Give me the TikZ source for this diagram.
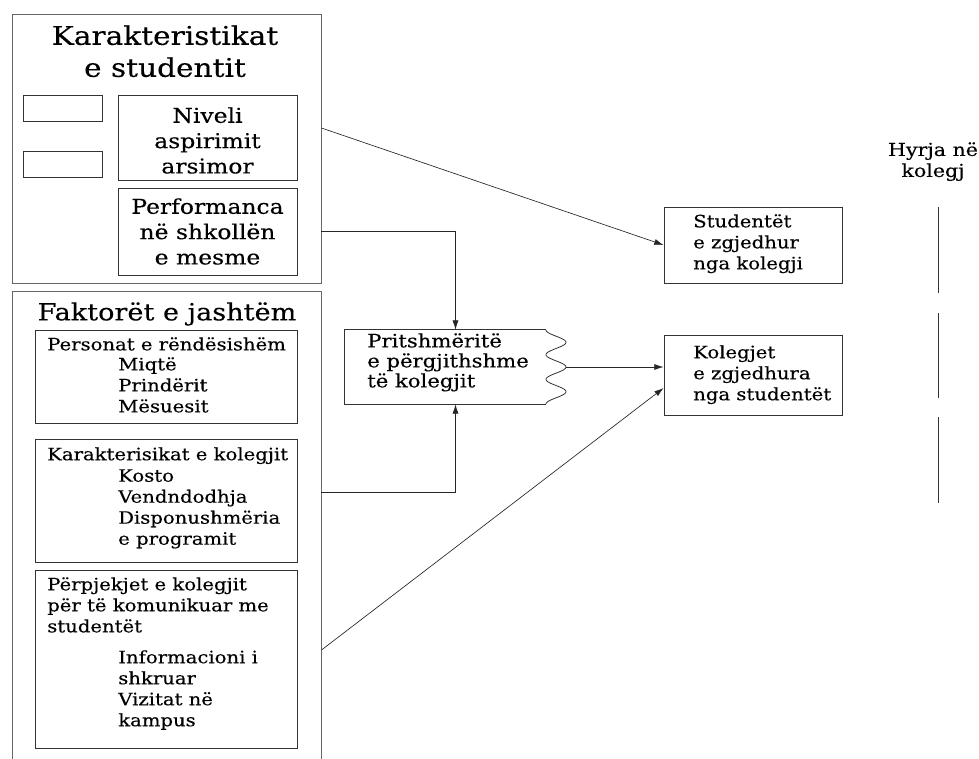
\documentclass[tikz,border=0pt]{standalone}
\usepackage{fontspec}
\setmainfont{DejaVu Serif}[FakeStretch=1.15, FakeBold=0.3]
\usetikzlibrary{arrows.meta,positioning,calc,fit}

\begin{document}
\begin{tikzpicture}[x=0.75pt, y=-0.75pt,
    line/.style={draw=black!80, line width=0.6pt},
    box/.style={line, inner sep=0pt},
    outer/.style={draw=black!60, line width=0.7pt, inner sep=0pt},
    txt/.style={inner sep=0pt, anchor=north west, align=left, font=\fontsize{12.8}{15.75}\selectfont},
    ctxt/.style={inner sep=0pt, align=center, font=\fontsize{15.3}{19}\selectfont},
    title/.style={inner sep=0pt, anchor=north, align=center, font=\fontsize{19.3}{24}\selectfont},
    arr/.style={draw=black!85, line width=0.5pt, -{Latex[length=7pt,width=4.5pt]}}]
    \useasboundingbox (0,0) rectangle (979,758);

    % Student characteristics
    \node[outer, fit={(12,14) (321,283)}] (char) {};
    \node[title] (chartitle) at (165,25) {Karakteristikat\\e studentit};
    \node[box, fit={(23,95) (102,121)}] (emptya) {};
    \node[box, fit={(23,151) (102,177)}] (emptyb) {};
    \node[box, fit={(118,95) (297,180)}] (niveli) {};
    \node[ctxt] (nivelitxt) at ($(niveli)+(0,3)$) {Niveli\\aspirimit\\arsimor};
    \node[box, fit={(118,188) (297,275)}] (perf) {};
    \node[ctxt] (perftxt) at (perf) {Performanca\\në shkollën\\e mesme};

    % External factors
    \node[outer, fit={(12,291) (321,775)}] (fakt) {};
    \node[title, font=\fontsize{17.7}{22}\selectfont] (fakttitle) at (167,302) {Faktorët e jashtëm};
    \node[box, fit={(35,330) (297,423)}] (personat) {};
    \node[txt] (personattxt) at (47,337) {Personat e rëndësishëm};
    \node[txt] (personatlist) at (118,357) {Miqtë\\Prindërit\\Mësuesit};
    \node[box, fit={(35,439) (297,562)}] (karak) {};
    \node[txt] (karaktxt) at (47,447) {Karakterisikat e kolegjit};
    \node[txt] (karaklist) at (118,469) {Kosto\\Vendndodhja\\Disponushmëria\\e programit};
    \node[box, fit={(35,570) (297,748)}] (perp) {};
    \node[txt] (perptxt) at (47,577) {Përpjekjet e kolegjit\\për të komunikuar me\\studentët};
    \node[txt] (perplist) at (118,650) {Informacioni i\\shkruar\\Vizitat në\\kampus};

    % Expectations
    \node[inner sep=0pt, fit={(345,330) (546,404)}] (pritsh) {};
    \draw[line] (pritsh.north east) -- (pritsh.north west) -- (pritsh.south west) -- (pritsh.south east);
    \draw[line] plot[domain=0:3, samples=90, variable=\t] ({556-10*cos(360*\t)}, {330+74*\t/3});
    \node[txt, font=\fontsize{13.8}{15}\selectfont] (pritshtxt) at (367,333) {Pritshmëritë\\e përgjithshme\\të kolegjit};

    % Outcomes
    \node[box, fit={(664,207) (842,283)}] (studentet) {};
    \node[txt] (studentettxt) at (693,214) {Studentët\\e zgjedhur\\nga kolegji};
    \node[box, fit={(664,335) (842,415)}] (kolegjet) {};
    \node[txt] (kolegjettxt) at (693,345) {Kolegjet\\e zgjedhura\\nga studentët};

    % College entry
    \node[txt, anchor=north, align=center, font=\fontsize{13.4}{15.75}\selectfont] (hyrja) at (933,142) {Hyrja në\\kolegj};
    \foreach \a/\b in {207/293, 313/398, 417/503} {
        \draw[line] (938,\a) -- (938,\b);
    }

    % Connectors
    \draw[arr] ($(char.east)+(0,-20.5)$) -- (studentet.west);
    \draw[arr] (char.east |- perf.east) -| ($(pritsh.north)+(10,0)$);
    \draw[arr] ($(fakt.east |- karak.east)+(0,-8)$) -| ($(pritsh.south)+(10,0)$);
    \draw[arr] ($(pritsh.east)+(20,0)$) -- (pritsh.east -| kolegjet.west);
    \draw[arr] ($(fakt.east |- perp.east)+(0,-9)$) -- ($(kolegjet.west)+(0,13)$);
\end{tikzpicture}
\end{document}
